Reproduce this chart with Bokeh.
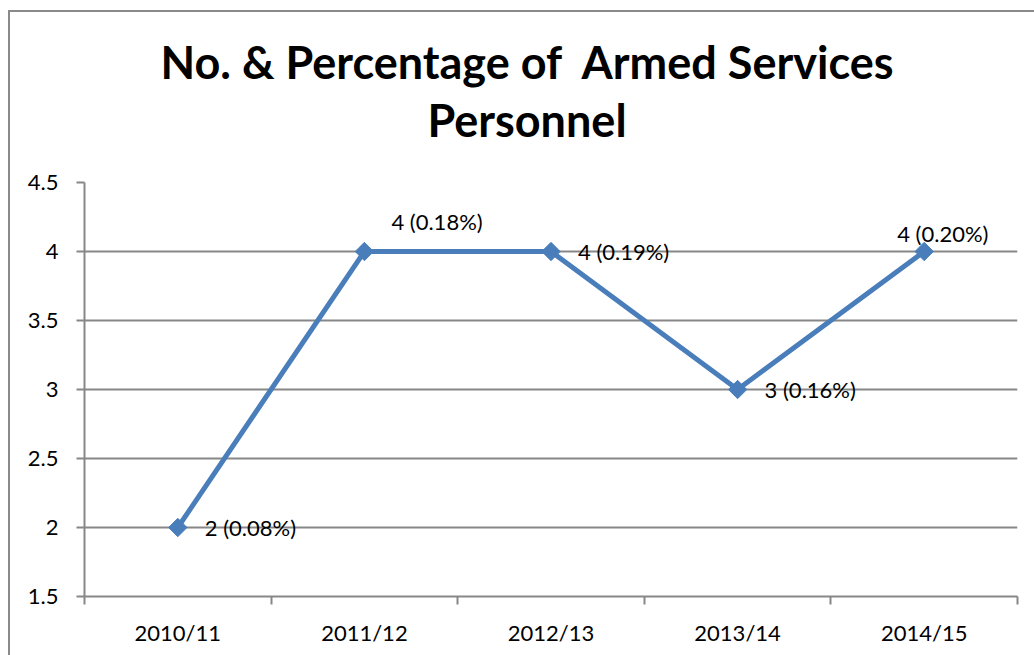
import numpy as np
from bokeh.plotting import figure
from bokeh.models import FixedTicker, ColumnDataSource, Range1d, Div
from bokeh.layouts import column
from bokeh.core.properties import value
from bokeh.embed import file_html
from bokeh.resources import INLINE
import html

# ---- data ----
years = ["2010/11", "2011/12", "2012/13", "2013/14", "2014/15"]
counts = [2, 4, 4, 3, 4]
percents = ["0.08%", "0.18%", "0.19%", "0.16%", "0.20%"]
y_ticks = [1.5, 2, 2.5, 3, 3.5, 4, 4.5]
y_tick_labels = ["1.5", "2", "2.5", "3", "3.5", "4", "4.5"]
title_line1 = "No. & Percentage of  Armed Services"
title_line2 = "Personnel"

labels = [f"{c} ({p})" for c, p in zip(counts, percents)]
xs = [i + 0.5 for i in range(len(years))]

# label placement (layout, not data)
lab_dx = [27, 27, 27, 27, -27]
lab_dy = [0, -30, 0, 0, -18]

FONT = "Lato"
GRAY = "#878787"
BLUE = "#4A7EBB"

title_html = (
    "<div style=\"display:block;box-sizing:content-box;width:1014px;font-family:Lato;"
    "font-weight:bold;font-size:45px;line-height:58px;text-align:center;padding-top:21px;"
    "padding-left:10px;color:black;white-space:pre;\">"
    + html.escape(title_line1) + "<br>" + html.escape(title_line2) + "</div>"
)
title_div = Div(text=title_html, width=1024, height=150, margin=0)

p = figure(width=1024, height=493, output_backend="svg", toolbar_location=None,
           x_range=Range1d(0, len(years)), y_range=Range1d(1.5, 4.5),
           min_border_left=74, min_border_right=17, min_border_top=20, min_border_bottom=59,
           margin=0)
p.title.visible = False

p.outline_line_color = None
p.xgrid.grid_line_color = None
p.ygrid.grid_line_color = GRAY
p.ygrid.grid_line_width = 2
p.ygrid.ticker = FixedTicker(ticks=y_ticks)

# x axis: labels at centres, tick marks at category boundaries (as minor ticks)
p.xaxis.ticker = FixedTicker(ticks=xs, minor_ticks=list(range(len(years) + 1)))
p.xaxis.major_label_overrides = {x: y for x, y in zip(xs, years)}
p.xaxis.major_tick_out = 0
p.xaxis.major_tick_in = 0
p.xaxis.minor_tick_out = 8
p.xaxis.minor_tick_in = 0
p.xaxis.minor_tick_line_color = GRAY
p.xaxis.minor_tick_line_width = 2
p.xaxis.major_label_standoff = 14

p.yaxis.ticker = FixedTicker(ticks=y_ticks)
p.yaxis.major_label_overrides = {t: l for t, l in zip(y_ticks, y_tick_labels)}
p.yaxis.major_tick_out = 8
p.yaxis.major_tick_in = 0
p.yaxis.minor_tick_line_color = None
p.yaxis.major_label_standoff = 18

for ax in (p.xaxis, p.yaxis):
    ax.axis_line_color = GRAY
    ax.axis_line_width = 2
    ax.major_tick_line_color = GRAY
    ax.major_tick_line_width = 2
    ax.major_label_text_font = FONT
    ax.major_label_text_font_size = "22px"
    ax.major_label_text_color = "black"

src = ColumnDataSource(dict(x=xs, y=counts, label=labels, dx=lab_dx, dy=lab_dy))
p.line("x", "y", source=src, line_color=BLUE, line_width=5)
p.scatter("x", "y", source=src, marker="square", angle=np.pi / 4, size=13,
          fill_color=BLUE, line_color=BLUE)
p.text("x", "y", text="label", source=src, x_offset="dx", y_offset="dy",
       text_font=value(FONT), text_font_size="22px", text_color="black",
       text_align="left", text_baseline="middle")

layout = column(title_div, p, spacing=0)
layout.styles = {"margin-left": "8px", "margin-top": "10px",
                 "border-left": "2px solid #8a8a8a", "border-top": "2px solid #8a8a8a"}

open("out.html", "w").write(file_html(layout, INLINE))
